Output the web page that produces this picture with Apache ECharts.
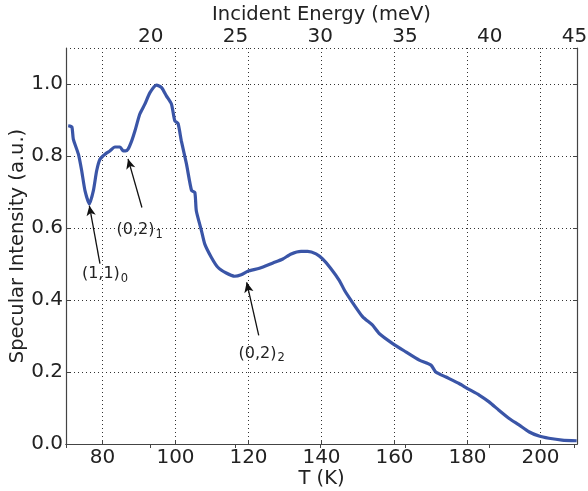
<!DOCTYPE html>
<html>
<head>
<meta charset="utf-8">
<script src="https://cdn.jsdelivr.net/npm/echarts@6/dist/echarts.min.js"></script>
<style>
  html, body { margin: 0; padding: 0; background: #fff; }
  #chart { width: 588px; height: 491px; }
</style>
</head>
<body>
<div id="chart"></div>
<script>
// temperature (K) and specular intensity
const temps = [
  70.6, 71.6, 72.0, 73.4, 74.3, 75.2, 76.4, 77.5, 78.4, 79.3,
  80.7, 82.0, 83.4, 84.8, 85.7, 86.3, 87.0, 88.0, 88.9, 90.2,
  91.6, 93.0, 94.8, 96.2, 97.5, 98.9, 99.8, 100.7, 101.6, 103.0,
  104.4, 105.3, 105.7, 107.1, 108.0, 109.8, 111.6, 113.9, 116.2, 118.0,
  119.8, 123.0, 126.7, 129.4, 131.7, 134.4, 136.2, 138.5, 140.3, 142.6,
  144.9, 146.3, 148.1, 151.3, 154.0, 155.8, 159.5, 163.1, 166.8, 170.0,
  171.3, 174.1, 177.7, 180.0, 183.2, 185.9, 188.6, 191.4, 194.1, 196.8,
  199.6, 202.3, 205.9, 209.9
]
const intensity = [
  0.884, 0.881, 0.847, 0.805, 0.759, 0.704, 0.667, 0.704, 0.759, 0.791,
  0.805, 0.814, 0.825, 0.825, 0.814, 0.814, 0.819, 0.842, 0.870, 0.916,
  0.944, 0.976, 0.997, 0.990, 0.967, 0.944, 0.898, 0.890, 0.842, 0.778,
  0.704, 0.699, 0.648, 0.593, 0.556, 0.519, 0.491, 0.475, 0.466, 0.470,
  0.480, 0.488, 0.503, 0.514, 0.528, 0.535, 0.535, 0.528, 0.514, 0.487,
  0.454, 0.427, 0.399, 0.353, 0.330, 0.307, 0.279, 0.256, 0.233, 0.219,
  0.200, 0.186, 0.168, 0.154, 0.136, 0.117, 0.094, 0.071, 0.053, 0.034,
  0.022, 0.016, 0.011, 0.009
]

// peak annotations: label, subscript, arrow tip, arrow tail, text centre (T, I)
const annoLabels = ['(1,1)', '(0,2)', '(0,2)']
const annoSubs = ['0', '1', '2']
const annoTips = [[76.4, 0.662], [87.0, 0.792], [119.5, 0.449]]
const annoTails = [[79.3, 0.501], [90.8, 0.657], [122.8, 0.302]]
const annoText = [[80.7, 0.472], [90.2, 0.594], [123.6, 0.251]]

const txt = '#222'
const axisCol = '#444'
const font = 'DejaVu Sans'

const points = temps.map((t, i) => [t, intensity[i]])

const chart = echarts.init(document.getElementById('chart'))
const option = {
  animation: false,
  textStyle: { fontFamily: font },
  grid: { left: 66, right: 11, top: 48, bottom: 47, outerBoundsMode: 'none', containLabel: false },
  xAxis: [
    {
      type: 'value',
      min: 70,
      max: 210,
      splitNumber: 7,
      name: 'T (K)',
      nameLocation: 'middle',
      nameGap: 25,
      nameMoveOverlap: false,
      nameTextStyle: { fontSize: 19.5, color: txt, fontFamily: font },
      axisLine: { lineStyle: { color: axisCol, width: 1.2 } },
      axisTick: { inside: true, length: 4, lineStyle: { color: axisCol } },
      axisLabel: { fontSize: 20, color: txt, margin: 4, showMinLabel: false, showMaxLabel: false, fontFamily: font },
      splitLine: { show: true, lineStyle: { color: '#333', type: [1, 3], width: 1 } }
    },
    {
      type: 'value',
      position: 'top',
      min: 15,
      max: 45.15,
      interval: 5,
      name: 'Incident Energy (meV)',
      nameLocation: 'middle',
      nameGap: 23,
      nameMoveOverlap: false,
      nameTextStyle: { fontSize: 19.5, color: txt, fontFamily: font },
      axisLine: { lineStyle: { color: axisCol, width: 1.2 } },
      axisTick: { inside: true, length: 4, lineStyle: { color: axisCol } },
      axisLabel: {
        fontSize: 20, color: txt, margin: 1, fontFamily: font,
        formatter: v => (v === 15 ? '' : String(v))
      },
      splitLine: { show: false }
    }
  ],
  yAxis: [
    {
      type: 'value',
      min: 0,
      max: 1.1,
      interval: 0.2,
      name: 'Specular Intensity (a.u.)',
      nameLocation: 'middle',
      nameGap: 38,
      nameMoveOverlap: false,
      nameTextStyle: { fontSize: 19.5, color: txt, fontFamily: font },
      axisLine: { show: true, lineStyle: { color: axisCol, width: 1.2 } },
      axisTick: { show: true, inside: true, length: 4, lineStyle: { color: axisCol } },
      axisLabel: {
        fontSize: 20, color: txt, margin: 3, showMaxLabel: false, fontFamily: font,
        formatter: v => v.toFixed(1)
      },
      splitLine: { show: true, lineStyle: { color: '#333', type: [1, 3], width: 1 } }
    },
    {
      type: 'value',
      position: 'right',
      min: 0,
      max: 1.1,
      interval: 0.2,
      axisLine: { show: true, lineStyle: { color: axisCol, width: 1.2 } },
      axisTick: { show: true, inside: true, length: 4, lineStyle: { color: axisCol } },
      axisLabel: { show: false },
      splitLine: { show: false }
    }
  ],
  series: [
    {
      type: 'line',
      xAxisIndex: 0,
      yAxisIndex: 0,
      data: points,
      showSymbol: false,
      smooth: 0.2,
      lineStyle: { color: '#3a55a7', width: 3.2 },
      markLine: {
        silent: true,
        symbol: ['none', 'arrow'],
        symbolSize: [7, 10],
        label: { show: false },
        lineStyle: { color: '#111', width: 1.3, type: 'solid' },
        data: annoTips.map((tip, i) => [{ coord: annoTails[i] }, { coord: tip }])
      },
      markPoint: {
        silent: true,
        symbol: 'circle',
        symbolSize: 0,
        data: annoText.map((c, i) => ({
          coord: c,
          label: {
            show: true,
            position: 'inside',
            formatter: '{a|' + annoLabels[i] + '}{s|' + annoSubs[i] + '}',
            rich: {
              a: { fontSize: 16, color: txt, fontFamily: font },
              s: { fontSize: 11.5, color: txt, fontFamily: font, padding: [9, 0, 0, 1] }
            }
          }
        }))
      }
    }
  ]
}
option && chart.setOption(option)
</script>
</body>
</html>
